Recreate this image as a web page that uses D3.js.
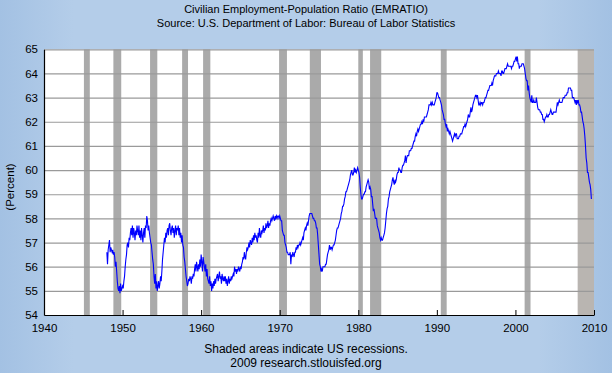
<!DOCTYPE html>
<html>
<head>
<meta charset="utf-8">
<script src="https://cdn.jsdelivr.net/npm/d3@7"></script>
<style>
  html, body { margin: 0; padding: 0; }
  body { width: 612px; height: 373px; overflow: hidden; }
  text { font-family: "Liberation Sans", Arial, sans-serif; fill: #000; }
</style>
</head>
<body>
<svg id="viz" width="612" height="373"></svg>
<script>
// Civilian Employment-Population Ratio, monthly, Jan 1948 - Sep 2009
var startYear = 1948;
var emratio = [
  56.6, 56.1, 56.7, 56.9, 57.1, 56.6, 56.8, 56.7, 56.6, 56.7, 56.5, 56.6, // 1948
  56.4, 56.0, 56.2, 55.8, 55.4, 55.1, 55.0, 55.2, 54.9, 55.3, 55.0, 55.1, // 1949
  55.2, 55.1, 55.4, 55.6, 56.0, 56.3, 56.5, 56.9, 57.0, 56.8, 57.2, 57.1, // 1950
  57.4, 57.6, 57.3, 57.7, 57.2, 57.6, 57.4, 57.1, 57.5, 57.3, 57.7, 57.5, // 1951
  57.3, 57.7, 57.2, 57.5, 57.1, 57.6, 57.3, 57.0, 57.4, 57.6, 57.2, 57.7, // 1952
  57.6, 58.1, 57.9, 57.5, 57.7, 57.4, 57.2, 57.0, 56.9, 56.6, 56.3, 56.1, // 1953
  55.6, 55.3, 55.7, 55.1, 55.4, 55.0, 55.2, 55.4, 55.1, 55.3, 55.6, 55.4, // 1954
  55.8, 56.3, 56.6, 56.9, 57.2, 57.0, 57.4, 57.2, 57.5, 57.6, 57.3, 57.7, // 1955
  57.8, 57.5, 57.3, 57.6, 57.7, 57.4, 57.6, 57.2, 57.5, 57.7, 57.3, 57.6, // 1956
  57.5, 57.7, 57.3, 57.6, 57.2, 57.4, 57.0, 57.3, 56.9, 56.8, 56.4, 56.2, // 1957
  55.9, 55.6, 55.4, 55.2, 55.3, 55.5, 55.4, 55.6, 55.5, 55.3, 55.6, 55.5, // 1958
  55.7, 55.6, 55.9, 56.1, 55.8, 56.2, 56.0, 55.8, 56.1, 55.9, 56.3, 56.0, // 1959
  56.5, 56.2, 55.8, 56.4, 56.2, 56.0, 55.8, 56.1, 55.6, 55.9, 55.5, 55.4, // 1960
  55.3, 55.6, 55.2, 55.4, 55.0, 55.3, 55.1, 55.4, 55.2, 55.5, 55.3, 55.5, // 1961
  55.6, 55.7, 55.4, 55.6, 55.8, 55.5, 55.6, 55.3, 55.7, 55.5, 55.4, 55.6, // 1962
  55.4, 55.6, 55.3, 55.5, 55.2, 55.4, 55.6, 55.3, 55.5, 55.4, 55.6, 55.5, // 1963
  55.6, 55.7, 55.6, 56.0, 55.8, 55.9, 55.7, 55.9, 55.8, 56.0, 55.9, 55.8, // 1964
  56.0, 55.9, 56.1, 56.2, 56.4, 56.3, 56.6, 56.4, 56.3, 56.6, 56.8, 56.7, // 1965
  56.8, 57.0, 56.8, 57.1, 57.0, 56.9, 57.2, 57.0, 57.3, 57.1, 57.4, 57.2, // 1966
  57.3, 57.1, 57.0, 57.4, 57.2, 57.6, 57.3, 57.2, 57.5, 57.4, 57.5, 57.7, // 1967
  57.4, 57.6, 57.5, 57.8, 57.6, 57.7, 57.9, 57.6, 57.8, 57.7, 57.9, 58.0, // 1968
  57.9, 58.0, 58.1, 58.0, 57.9, 58.1, 58.0, 58.1, 58.0, 58.1, 58.1, 58.0, // 1969
  58.1, 58.0, 57.9, 57.9, 57.5, 57.4, 57.3, 57.3, 57.0, 56.9, 56.8, 56.6, // 1970
  56.6, 56.5, 56.5, 56.5, 56.6, 56.1, 56.5, 56.4, 56.6, 56.5, 56.4, 56.6, // 1971
  56.6, 56.8, 56.7, 56.9, 56.8, 56.9, 56.9, 57.0, 56.9, 57.0, 57.1, 57.2, // 1972
  57.1, 57.4, 57.5, 57.6, 57.5, 57.7, 57.8, 57.7, 57.9, 58.1, 58.2, 58.2, // 1973
  58.2, 58.2, 58.1, 58.0, 58.0, 57.9, 57.9, 57.8, 57.6, 57.6, 57.3, 56.9, // 1974
  56.5, 56.1, 56.0, 55.8, 55.9, 55.8, 56.0, 56.0, 56.0, 56.0, 56.1, 56.1, // 1975
  56.3, 56.5, 56.6, 56.7, 56.9, 56.7, 56.8, 56.8, 56.7, 56.8, 56.9, 56.9, // 1976
  57.0, 57.1, 57.3, 57.5, 57.6, 57.6, 57.7, 57.8, 57.9, 58.0, 58.2, 58.3, // 1977
  58.5, 58.5, 58.6, 58.8, 58.9, 59.1, 59.1, 59.2, 59.3, 59.4, 59.5, 59.6, // 1978
  59.8, 59.9, 60.0, 59.8, 59.8, 59.9, 60.1, 59.9, 60.0, 59.9, 60.0, 60.1, // 1979
  60.0, 59.9, 59.7, 59.3, 59.0, 58.8, 58.8, 58.9, 59.0, 59.0, 59.1, 59.1, // 1980
  59.3, 59.4, 59.5, 59.6, 59.5, 59.2, 59.3, 59.2, 58.9, 58.9, 58.6, 58.3, // 1981
  58.4, 58.2, 58.0, 58.0, 58.0, 57.7, 57.6, 57.5, 57.4, 57.2, 57.1, 57.2, // 1982
  57.1, 57.1, 57.2, 57.3, 57.4, 57.6, 57.9, 58.2, 58.4, 58.5, 58.8, 58.9, // 1983
  59.1, 59.2, 59.3, 59.4, 59.6, 59.7, 59.5, 59.4, 59.6, 59.5, 59.6, 59.8, // 1984
  59.9, 59.9, 60.1, 60.0, 60.0, 59.9, 59.9, 60.1, 60.2, 60.2, 60.3, 60.4, // 1985
  60.6, 60.3, 60.5, 60.6, 60.6, 60.6, 60.8, 60.8, 60.8, 60.9, 60.9, 61.0, // 1986
  61.1, 61.2, 61.2, 61.4, 61.5, 61.4, 61.6, 61.7, 61.6, 61.7, 61.8, 61.9, // 1987
  61.9, 62.0, 61.9, 62.1, 62.0, 62.2, 62.2, 62.2, 62.2, 62.3, 62.4, 62.5, // 1988
  62.7, 62.7, 62.7, 62.8, 62.7, 62.8, 62.7, 62.7, 62.7, 62.8, 62.9, 63.0, // 1989
  63.2, 63.2, 63.1, 63.0, 63.0, 62.9, 62.8, 62.7, 62.5, 62.4, 62.3, 62.1, // 1990
  62.1, 61.9, 61.8, 61.9, 61.6, 61.7, 61.6, 61.5, 61.6, 61.5, 61.4, 61.3, // 1991
  61.2, 61.3, 61.4, 61.5, 61.4, 61.5, 61.5, 61.3, 61.3, 61.3, 61.4, 61.4, // 1992
  61.5, 61.5, 61.5, 61.6, 61.7, 61.8, 61.8, 61.9, 61.8, 61.9, 62.0, 62.1, // 1993
  62.3, 62.2, 62.2, 62.4, 62.6, 62.4, 62.5, 62.7, 62.8, 62.9, 63.0, 63.1, // 1994
  63.1, 63.0, 63.1, 62.9, 62.7, 62.7, 62.8, 62.7, 62.8, 62.8, 62.7, 62.8, // 1995
  62.8, 62.9, 63.0, 63.0, 63.1, 63.2, 63.3, 63.3, 63.4, 63.5, 63.5, 63.5, // 1996
  63.6, 63.5, 63.7, 63.8, 63.9, 63.9, 63.9, 64.0, 64.0, 64.0, 64.1, 64.0, // 1997
  64.0, 64.0, 63.9, 64.1, 64.1, 64.0, 64.0, 64.1, 64.2, 64.2, 64.2, 64.3, // 1998
  64.4, 64.3, 64.3, 64.3, 64.3, 64.3, 64.2, 64.3, 64.3, 64.4, 64.5, 64.5, // 1999
  64.6, 64.7, 64.5, 64.7, 64.4, 64.4, 64.2, 64.3, 64.3, 64.3, 64.4, 64.4, // 2000
  64.4, 64.3, 64.2, 64.0, 63.8, 63.7, 63.7, 63.3, 63.5, 63.2, 63.0, 62.9, // 2001
  62.8, 63.1, 62.8, 62.8, 62.9, 62.8, 62.8, 62.8, 63.0, 62.8, 62.6, 62.5, // 2002
  62.5, 62.5, 62.4, 62.4, 62.3, 62.3, 62.1, 62.1, 62.0, 62.1, 62.2, 62.2, // 2003
  62.3, 62.2, 62.2, 62.3, 62.3, 62.4, 62.5, 62.4, 62.3, 62.3, 62.4, 62.4, // 2004
  62.4, 62.4, 62.4, 62.6, 62.8, 62.7, 62.8, 62.9, 62.8, 62.8, 62.8, 62.8, // 2005
  62.9, 63.0, 63.0, 63.0, 63.1, 63.1, 63.1, 63.2, 63.2, 63.4, 63.4, 63.4, // 2006
  63.4, 63.3, 63.3, 63.0, 63.0, 63.0, 62.9, 62.8, 62.9, 62.7, 62.9, 62.8, // 2007
  62.9, 62.7, 62.7, 62.6, 62.4, 62.4, 62.2, 62.0, 61.9, 61.7, 61.4, 61.0, // 2008
  60.5, 60.3, 59.9, 59.9, 59.7, 59.5, 59.4, 59.2, 58.8                    // 2009
];

// NBER recessions as [start, end] in decimal years
var recessions = [
  [1945.08, 1945.83], [1948.83, 1949.83], [1953.50, 1954.42], [1957.58, 1958.33],
  [1960.25, 1961.17], [1969.92, 1970.92], [1973.83, 1975.25], [1980.00, 1980.58],
  [1981.50, 1982.92], [1990.50, 1991.25], [2001.17, 2001.92], [2007.92, 2010.00]
];

var xTicks = [1940, 1950, 1960, 1970, 1980, 1990, 2000, 2010];
var yTicks = [54, 55, 56, 57, 58, 59, 60, 61, 62, 63, 64, 65];

var titleLines = ["Civilian Employment-Population Ratio (EMRATIO)",
                  "Source: U.S. Department of Labor: Bureau of Labor Statistics"];
var footLines = ["Shaded areas indicate US recessions.",
                 "2009 research.stlouisfed.org"];

var W = 612, H = 373;
var plot = { left: 44, right: 594, top: 49.3, bottom: 315 };

var svg = d3.select("#viz");

// background with a soft darker rim
var defs = svg.append("defs");
var grad = defs.append("linearGradient").attr("id", "bg").attr("x1", 0).attr("x2", 1).attr("y1", 0).attr("y2", 0);
grad.append("stop").attr("offset", "0%").attr("stop-color", "#a3c1e3");
grad.append("stop").attr("offset", "12%").attr("stop-color", "#b4cde9");
grad.append("stop").attr("offset", "88%").attr("stop-color", "#b4cde9");
grad.append("stop").attr("offset", "100%").attr("stop-color", "#a3c1e3");
svg.append("rect").attr("width", W).attr("height", H).attr("fill", "url(#bg)");

var x = d3.scaleLinear().domain([1940, 2010]).range([plot.left, plot.right]);
var y = d3.scaleLinear().domain([54, 65]).range([plot.bottom, plot.top]);

// plot area
svg.append("rect")
    .attr("x", plot.left).attr("y", plot.top)
    .attr("width", plot.right - plot.left).attr("height", plot.bottom - plot.top)
    .attr("fill", "#fff");

// recession shading
svg.selectAll(".rec")
    .data(recessions)
  .enter().append("rect")
    .attr("class", "rec")
    .attr("x", function(d) { return x(d[0]); })
    .attr("width", function(d) { return x(d[1]) - x(d[0]); })
    .attr("y", plot.top)
    .attr("height", plot.bottom - plot.top)
    .attr("fill", function(d, i) { return i == recessions.length - 1 ? "#b9b5b1" : "#aaaaaa"; });

// horizontal grid
svg.append("g")
    .attr("transform", "translate(" + plot.left + ",0)")
    .call(d3.axisLeft(y).tickValues(yTicks.slice(1)).tickSize(-(plot.right - plot.left)).tickFormat(""))
    .call(function(g) {
      g.select(".domain").remove();
      g.selectAll("line").attr("stroke", "#9a9a9a").attr("stroke-width", 1.2);
    });

// series
var points = emratio.map(function(v, i) { return { t: startYear + i / 12, v: v }; });
var line = d3.line()
    .x(function(d) { return x(d.t); })
    .y(function(d) { return y(d.v); });

svg.append("path")
    .datum(points)
    .attr("d", line)
    .attr("fill", "none")
    .attr("stroke", "#0000ff")
    .attr("stroke-width", 1.1);

// y axis
var yAxis = svg.append("g")
    .attr("transform", "translate(" + plot.left + ",0)")
    .call(d3.axisLeft(y).tickValues(yTicks).tickSize(0).tickPadding(6).tickFormat(d3.format("d")));
yAxis.select(".domain").attr("stroke", "#000").attr("stroke-width", 1.2);
yAxis.selectAll("text").style("font-size", "11.5px").style("font-family", "Liberation Sans, Arial, sans-serif");

// x axis, ticks pointing into the plot
var xAxis = svg.append("g")
    .attr("transform", "translate(0," + plot.bottom + ")")
    .call(d3.axisBottom(x).tickValues(xTicks).tickSizeInner(-5).tickSizeOuter(0).tickPadding(9).tickFormat(d3.format("d")));
xAxis.select(".domain").attr("stroke", "#000").attr("stroke-width", 1.2);
xAxis.selectAll("line").attr("stroke", "#000");
xAxis.selectAll("text").style("font-size", "11.5px").style("font-family", "Liberation Sans, Arial, sans-serif");

// y label
svg.append("text")
    .attr("transform", "translate(14,187) rotate(-90)")
    .attr("text-anchor", "middle")
    .style("font-size", "11.5px")
    .text("(Percent)");

// title and footer
svg.selectAll(".title")
    .data(titleLines)
  .enter().append("text")
    .attr("class", "title")
    .attr("x", W / 2)
    .attr("y", function(d, i) { return 13 + i * 14; })
    .attr("text-anchor", "middle")
    .style("font-size", "11px")
    .text(function(d) { return d; });

svg.selectAll(".foot")
    .data(footLines)
  .enter().append("text")
    .attr("class", "foot")
    .attr("x", W / 2)
    .attr("y", function(d, i) { return 353 + i * 14; })
    .attr("text-anchor", "middle")
    .style("font-size", "12px")
    .text(function(d) { return d; });
</script>
</body>
</html>
